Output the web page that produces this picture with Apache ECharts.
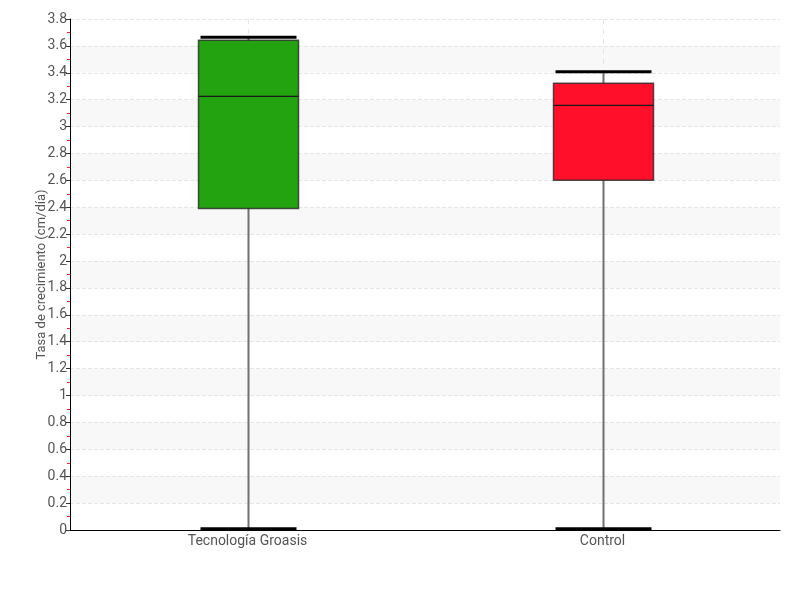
<!DOCTYPE html>
<html><head><meta charset="utf-8">
<script src="https://cdn.jsdelivr.net/npm/echarts@6/dist/echarts.min.js"></script>
<style>html,body{margin:0;padding:0;background:#fff}#c{width:800px;height:600px}</style>
</head><body><div id="c"></div>
<script>
const categories = ['Tecnología Groasis', 'Control'];
const minVals = [0.01, 0.01];
const q1Vals = [2.39, 2.60];
const medianVals = [3.225, 3.158];
const q3Vals = [3.642, 3.322];
const maxVals = [3.664, 3.408];
const boxColors = ['#22a30f', '#ff0f2a'];
const yMin = 0, yMax = 3.8, yTickInterval = 0.2;

const FONT = 'Roboto, "Liberation Sans", sans-serif';
const chart = echarts.init(document.getElementById('c'));
const data = categories.map((c, i) => [i, minVals[i], q1Vals[i], medianVals[i], q3Vals[i], maxVals[i]]);

chart.setOption({
  animation: false,
  backgroundColor: '#fff',
  grid: { left: 70, right: 20, top: 19, bottom: 70 },
  xAxis: {
    type: 'category',
    data: categories,
    axisLine: { lineStyle: { color: '#000', width: 1 } },
    axisTick: { show: false },
    axisLabel: { color: '#555', fontFamily: FONT, fontSize: 14, margin: 4 },
    splitLine: { show: false }
  },
  yAxis: {
    type: 'value',
    min: yMin, max: yMax, interval: yTickInterval,
    name: 'Tasa de crecimiento (cm/día)',
    nameLocation: 'middle',
    nameGap: 22,
    nameMoveOverlap: false,
    nameTextStyle: { color: '#555', fontFamily: FONT, fontSize: 13 },
    axisLine: { show: true, lineStyle: { color: '#000', width: 1 } },
    axisTick: { show: true, length: 4, lineStyle: { color: '#333' } },
    minorTick: { show: true, splitNumber: 2, length: 3, lineStyle: { color: '#ff2020', width: 1 } },
    axisLabel: { color: '#555', fontFamily: FONT, fontSize: 14, margin: 3 },
    splitLine: { show: true, lineStyle: { color: '#e6e6e6', type: 'dashed' } },
    splitArea: { show: true, areaStyle: { color: ['rgba(255,255,255,0)', '#f8f8f8'] } }
  },
  series: [
    {
      type: 'custom',
      data: data,
      renderItem: function (params, api) {
        const x = api.value(0);
        const pMin = api.coord([x, api.value(1)]);
        const pQ1 = api.coord([x, api.value(2)]);
        const pMed = api.coord([x, api.value(3)]);
        const pQ3 = api.coord([x, api.value(4)]);
        const pMax = api.coord([x, api.value(5)]);
        const pTop = api.coord([x, yMax]);
        const pBot = api.coord([x, yMin]);
        const cx = Math.round(pMin[0]) + 0.5;
        const bw = 100, cw = 96;
        const color = boxColors[params.dataIndex];
        return {
          type: 'group',
          children: [
            { type: 'line', shape: { x1: cx, y1: pTop[1], x2: cx, y2: pBot[1] },
              style: { stroke: '#e6e6e6', lineWidth: 1, lineDash: [5, 5] } },
            { type: 'line', shape: { x1: cx, y1: pMin[1], x2: cx, y2: pMax[1] },
              style: { stroke: '#707070', lineWidth: 2 } },
            { type: 'rect', shape: { x: cx - bw / 2, y: pQ3[1], width: bw, height: pQ1[1] - pQ3[1] },
              style: { fill: color, stroke: 'rgba(40,40,40,0.8)', lineWidth: 1.5 } },
            { type: 'line', shape: { x1: cx - bw / 2, y1: pMed[1], x2: cx + bw / 2, y2: pMed[1] },
              style: { stroke: '#1a1a1a', lineWidth: 1.2 } },
            { type: 'line', shape: { x1: cx - cw / 2, y1: pMax[1], x2: cx + cw / 2, y2: pMax[1] },
              style: { stroke: '#000', lineWidth: 3 } },
            { type: 'line', shape: { x1: cx - cw / 2, y1: pMin[1], x2: cx + cw / 2, y2: pMin[1] },
              style: { stroke: '#000', lineWidth: 3 } }
          ]
        };
      }
    }
  ]
});
</script></body></html>
